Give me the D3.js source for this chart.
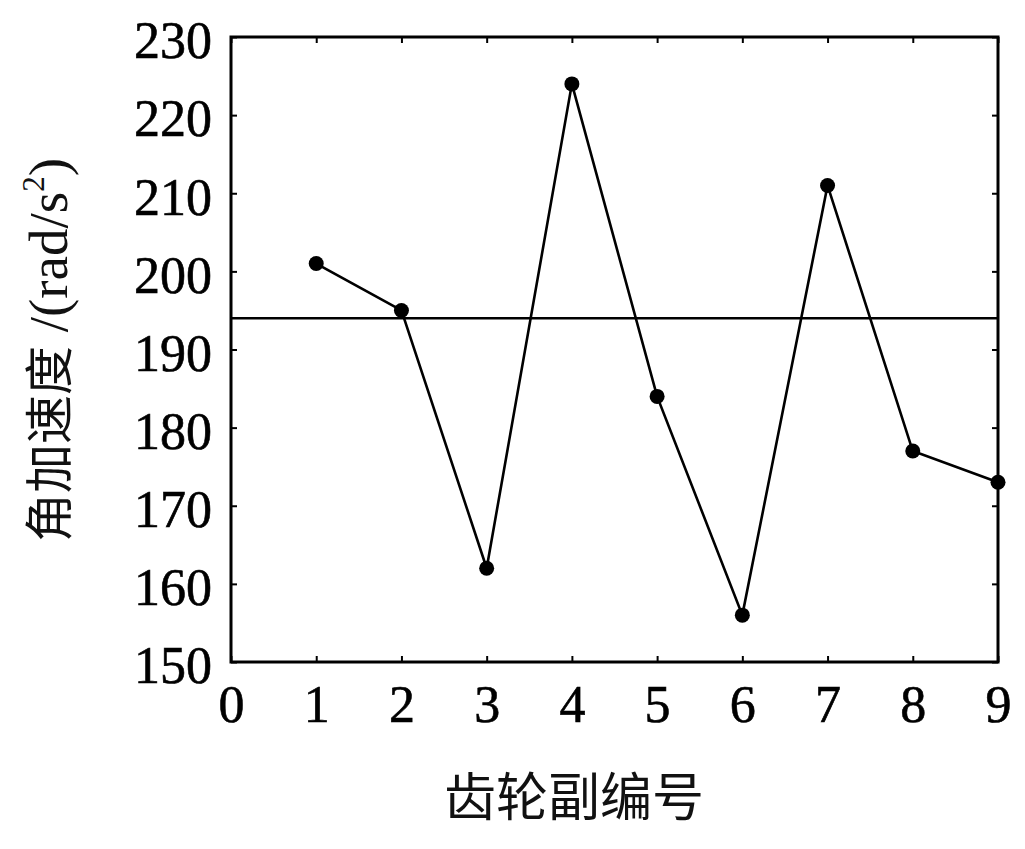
<!DOCTYPE html>
<html><head><meta charset="utf-8">
<script src="https://cdn.jsdelivr.net/npm/d3@7"></script>
<style>body{margin:0;background:#fff}</style>
</head><body>
<svg id="c" width="1025" height="849"></svg>
<script>
const gearPairs = [1,2,3,4,5,6,7,8,9];
const angularAcc = [201,195,162,224,184,156,211,177,173];
const meanValue = [194];
const xTicks = [0,1,2,3,4,5,6,7,8,9];
const yTicks = [150,160,170,180,190,200,210,220,230];

const svg = d3.select("#c");
const L=231, R=998, T=37, B=662;
const x = d3.scaleLinear().domain([0,9]).range([L,R]);
const y = d3.scaleLinear().domain([150,230]).range([B,T]);
const serif = "'Liberation Serif','Times New Roman',serif";
const cjk = "'Noto Sans CJK SC','Noto Sans CJK JP',sans-serif";

const tl = 6;
const axB = d3.axisBottom(x).tickValues(xTicks).tickSize(-tl).tickFormat(d3.format("d")).tickPadding(23);
const axT = d3.axisTop(x).tickValues(xTicks).tickSize(-tl).tickFormat("");
const axL = d3.axisLeft(y).tickValues(yTicks).tickSize(-tl).tickFormat(d3.format("d")).tickPadding(19);
const axR = d3.axisRight(y).tickValues(yTicks).tickSize(-tl).tickFormat("");

function style(g){
  g.select(".domain").remove();
  g.selectAll(".tick line").attr("stroke","#000").attr("stroke-width",2);
  g.selectAll("text").attr("font-family",serif).attr("font-size",52).attr("fill","#000")
    .attr("stroke","#000").attr("stroke-width",0.6);
}
svg.append("g").attr("transform",`translate(0,${B})`).call(axB).call(style)
  .selectAll("text").attr("dy","0.71em");
svg.append("g").attr("transform",`translate(0,${T})`).call(axT).call(style);
svg.append("g").attr("transform",`translate(${L},0)`).call(axL).call(style)
  .selectAll("text").attr("dy","0.40em");
svg.append("g").attr("transform",`translate(${R},0)`).call(axR).call(style);

svg.append("rect").attr("x",L).attr("y",T).attr("width",R-L).attr("height",B-T)
  .attr("fill","none").attr("stroke","#000").attr("stroke-width",3);

svg.selectAll(".mean").data(meanValue).enter().append("line")
  .attr("x1",L).attr("x2",R).attr("y1",d=>y(d)).attr("y2",d=>y(d))
  .attr("stroke","#000").attr("stroke-width",2.6);

const data = gearPairs.map((g,i)=>({g,v:angularAcc[i]}));
svg.append("path").datum(data)
  .attr("d", d3.line().x(d=>x(d.g)).y(d=>y(d.v)))
  .attr("fill","none").attr("stroke","#000").attr("stroke-width",2.6);
svg.selectAll(".pt").data(data).enter().append("circle")
  .attr("cx",d=>x(d.g)).attr("cy",d=>y(d.v)).attr("r",7.5).attr("fill","#000");

svg.append("text").attr("x",574).attr("y",816).attr("text-anchor","middle")
  .attr("font-family",cjk).attr("font-size",52).attr("fill","#111").text("齿轮副编号");

const yt = svg.append("text").attr("transform","translate(67,350) rotate(-90)")
  .attr("text-anchor","middle").attr("fill","#111");
yt.append("tspan").attr("font-family",cjk).attr("font-size",49).text("角加速度");
yt.append("tspan").attr("font-family",serif).attr("font-size",55).text(" /(rad/s");
yt.append("tspan").attr("font-family",serif).attr("font-size",31).attr("dy",-23).text("2");
yt.append("tspan").attr("font-family",serif).attr("font-size",55).attr("dy",23).text(")");
</script>
</body></html>
